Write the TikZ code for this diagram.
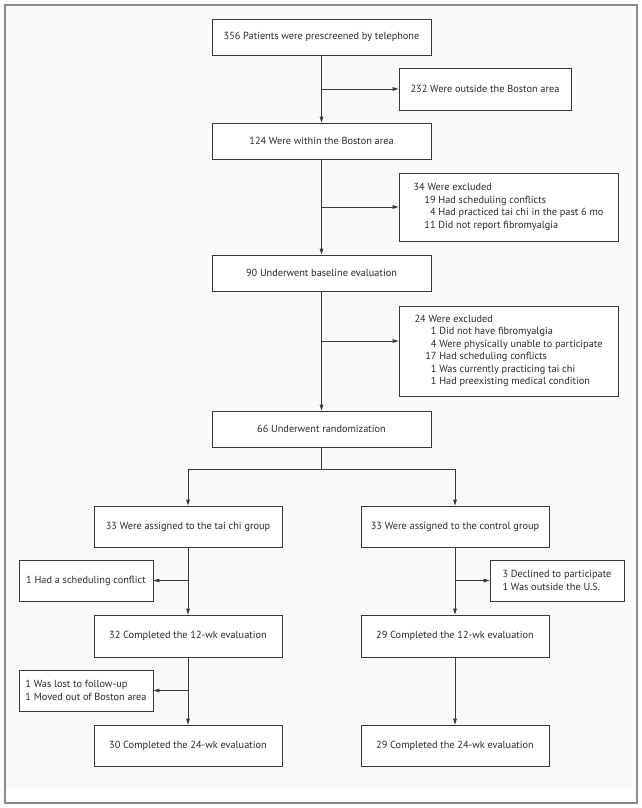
\documentclass[tikz,border=0pt]{standalone}
\usepackage{fontspec}
\setmainfont{PT Sans}
\usetikzlibrary{arrows.meta,calc}
\definecolor{boxline}{HTML}{383838}
\definecolor{inkgray}{HTML}{2B2B2B}
\definecolor{framegray}{HTML}{8C8C8C}
\definecolor{panelgray}{HTML}{F9F9FB}

\begin{document}
\begin{tikzpicture}[x=1pt,y=-1pt,
  every node/.style={font=\fontsize{10.3}{12.5}\selectfont,text=inkgray},
  box/.style={draw=boxline,fill=white,line width=0.8pt,inner sep=0pt,align=center},
  mainbox/.style={box,minimum width=219pt,minimum height=36pt},
  armbox/.style={box,minimum width=188pt,minimum height=41pt},
  sidebox/.style={box,align=left,minimum width=134pt,minimum height=41pt},
  flow/.style={draw=boxline,line width=0.8pt,-{Triangle[length=6pt,width=3.6pt]}}]
\useasboundingbox (0,0) rectangle (642,808);
\fill[panelgray] (5,5) rectangle (633,788);
\draw[framegray,line width=1.5pt] (5,5) rectangle (637,803);

\node[mainbox] (screen) at (321.5,37) {356 Patients were prescreened by telephone};
\node[box,minimum width=172pt,minimum height=42pt] (outside) at (485,89) {232 Were outside the Boston area};
\node[mainbox] (within) at (321.5,141) {124 Were within the Boston area};
\node[sidebox,minimum width=219pt,minimum height=68pt] (excl1) at (508.5,207)
  {34 Were excluded\\
   \hspace*{1.05em}19 Had scheduling conflicts\\
   \hspace*{1.05em}\phantom{1}4 Had practiced tai chi in the past 6 mo\\
   \hspace*{1.05em}11 Did not report fibromyalgia};
\node[mainbox] (baseline) at (321.5,273) {90 Underwent baseline evaluation};
\node[sidebox,minimum width=219pt,minimum height=90pt] (excl2) at (508.5,351)
  {24 Were excluded\\
   \hspace*{1.05em}\phantom{1}1 Did not have fibromyalgia\\
   \hspace*{1.05em}\phantom{1}4 Were physically unable to participate\\
   \hspace*{1.05em}17 Had scheduling conflicts\\
   \hspace*{1.05em}\phantom{1}1 Was currently practicing tai chi\\
   \hspace*{1.05em}\phantom{1}1 Had preexisting medical condition};
\node[mainbox] (random) at (321.5,429) {66 Underwent randomization};

\node[armbox] (taichi) at (188,526.5) {33 Were assigned to the tai chi group};
\node[armbox] (control) at (455,526.5) {33 Were assigned to the control group};
\node[sidebox] (conflict) at (86,580.5) {1 Had a scheduling conflict};
\node[sidebox] (declined) at (557,580.5)
  {3 Declined to participate\\1 Was outside the U.S.};
\node[armbox,minimum height=42pt] (taichi12) at (188,636) {32 Completed the 12-wk evaluation};
\node[armbox,minimum height=42pt] (control12) at (455,636) {29 Completed the 12-wk evaluation};
\node[sidebox] (lost) at (86,690.5)
  {1 Was lost to follow-up\\1 Moved out of Boston area};
\node[armbox] (taichi24) at (188,745.5) {30 Completed the 24-wk evaluation};
\node[armbox] (control24) at (455,745.5) {29 Completed the 24-wk evaluation};

\draw[flow] (screen) -- (within);
\draw[flow] (screen.south |- outside.west) -- (outside.west);
\draw[flow] (within) -- (baseline);
\draw[flow] (within.south |- excl1.west) -- (excl1.west);
\coordinate (excl2in) at ([yshift=10pt]excl2.west);
\draw[flow] (baseline) -- (random);
\draw[flow] (baseline.south |- excl2in) -- (excl2in);
\draw[draw=boxline,line width=0.8pt] (random.south) -- ++(0,22) coordinate (split);
\draw[flow] (split) -| (taichi.north);
\draw[flow] (split) -| (control.north);
\draw[flow] (taichi) -- (taichi12);
\draw[flow] (taichi.south |- conflict.east) -- (conflict.east);
\draw[flow] (control) -- (control12);
\draw[flow] (control.south |- declined.west) -- (declined.west);
\draw[flow] (taichi12) -- (taichi24);
\draw[flow] (taichi12.south |- lost.east) -- (lost.east);
\draw[flow] (control12) -- (control24);
\end{tikzpicture}
\end{document}
